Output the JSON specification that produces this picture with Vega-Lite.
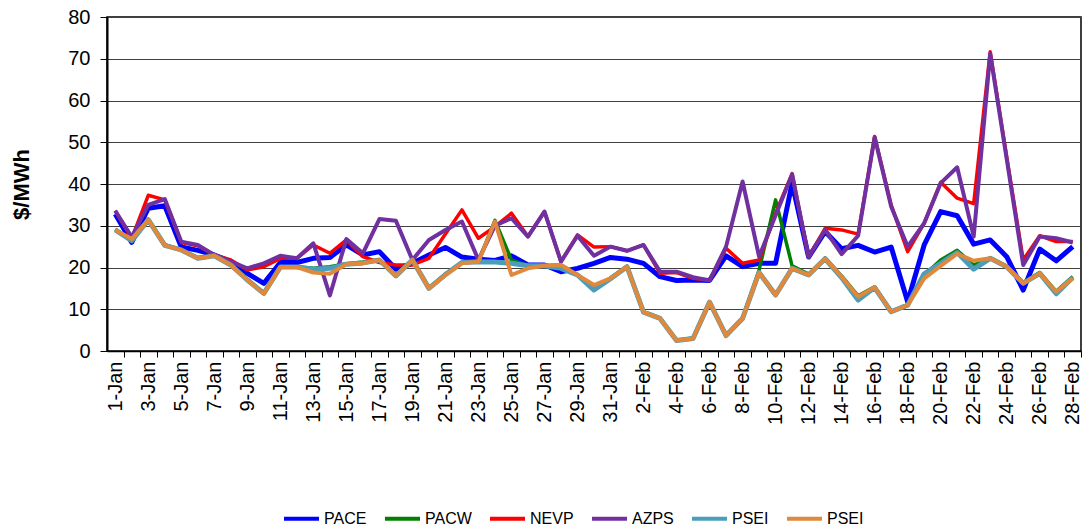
{
  "$schema": "https://vega.github.io/schema/vega-lite/v6.json",
  "width": 974,
  "height": 334,
  "autosize": {"type": "none"},
  "padding": {"left": 107, "top": 17, "right": 7, "bottom": 178},
  "background": "white",
  "config": {
    "font": "Liberation Sans",
    "view": {"stroke": "#000000", "strokeWidth": 1.5}
  },
  "data": {
    "values": [
      {"date": "1-Jan", "PACE": 32.8, "PACW": 29.2, "NEVP": 33.6, "AZPS": 33.6, "PSEI": 29, "PSEI2": 29},
      {"date": "2-Jan", "PACE": 26, "PACW": 26.6, "NEVP": 27, "AZPS": 27.3, "PSEI": 26.4, "PSEI2": 26.8},
      {"date": "3-Jan", "PACE": 34.2, "PACW": 31.6, "NEVP": 37.3, "AZPS": 35, "PSEI": 31.4, "PSEI2": 31.4},
      {"date": "4-Jan", "PACE": 34.8, "PACW": 25.5, "NEVP": 36.2, "AZPS": 36.4, "PSEI": 25.3, "PSEI2": 25.3},
      {"date": "5-Jan", "PACE": 24.9, "PACW": 24.2, "NEVP": 26, "AZPS": 26.2, "PSEI": 24.2, "PSEI2": 24.2},
      {"date": "6-Jan", "PACE": 24.1, "PACW": 22.4, "NEVP": 25.2, "AZPS": 25.4, "PSEI": 22.2, "PSEI2": 22.2},
      {"date": "7-Jan", "PACE": 23, "PACW": 22.8, "NEVP": 23, "AZPS": 23, "PSEI": 22.8, "PSEI2": 22.8},
      {"date": "8-Jan", "PACE": 21.4, "PACW": 20.8, "NEVP": 21.8, "AZPS": 21.4, "PSEI": 20.6, "PSEI2": 20.6},
      {"date": "9-Jan", "PACE": 18.6, "PACW": 17.2, "NEVP": 19.4, "AZPS": 19.8, "PSEI": 17, "PSEI2": 17},
      {"date": "10-Jan", "PACE": 16.2, "PACW": 13.9, "NEVP": 20.2, "AZPS": 21, "PSEI": 13.8, "PSEI2": 13.7},
      {"date": "11-Jan", "PACE": 21.2, "PACW": 20.2, "NEVP": 22.2, "AZPS": 22.8, "PSEI": 20.1, "PSEI2": 20.1},
      {"date": "12-Jan", "PACE": 21.2, "PACW": 20.2, "NEVP": 22.2, "AZPS": 22.2, "PSEI": 20.1, "PSEI2": 20.1},
      {"date": "13-Jan", "PACE": 22.2, "PACW": 19.8, "NEVP": 25.4, "AZPS": 25.8, "PSEI": 19.6, "PSEI2": 18.8},
      {"date": "14-Jan", "PACE": 22.4, "PACW": 20.2, "NEVP": 23.4, "AZPS": 13.3, "PSEI": 19.8, "PSEI2": 18.5},
      {"date": "15-Jan", "PACE": 25.4, "PACW": 20.9, "NEVP": 26.6, "AZPS": 26.8, "PSEI": 20.8, "PSEI2": 20.8},
      {"date": "16-Jan", "PACE": 23, "PACW": 21.3, "NEVP": 22.6, "AZPS": 23.4, "PSEI": 21.1, "PSEI2": 21},
      {"date": "17-Jan", "PACE": 23.8, "PACW": 21.8, "NEVP": 21.2, "AZPS": 31.6, "PSEI": 21.8, "PSEI2": 21.8},
      {"date": "18-Jan", "PACE": 19.6, "PACW": 18.1, "NEVP": 20.6, "AZPS": 31.2, "PSEI": 18, "PSEI2": 18},
      {"date": "19-Jan", "PACE": 21, "PACW": 21.8, "NEVP": 20.6, "AZPS": 21.8, "PSEI": 21.8, "PSEI2": 21.8},
      {"date": "20-Jan", "PACE": 23, "PACW": 15.1, "NEVP": 22.2, "AZPS": 26.6, "PSEI": 15, "PSEI2": 15},
      {"date": "21-Jan", "PACE": 24.8, "PACW": 18.4, "NEVP": 28, "AZPS": 29, "PSEI": 18.3, "PSEI2": 18.2},
      {"date": "22-Jan", "PACE": 22.5, "PACW": 21.1, "NEVP": 33.8, "AZPS": 31, "PSEI": 21.2, "PSEI2": 21},
      {"date": "23-Jan", "PACE": 22, "PACW": 21.5, "NEVP": 27, "AZPS": 21.8, "PSEI": 21.4, "PSEI2": 21.4},
      {"date": "24-Jan", "PACE": 21.7, "PACW": 31.3, "NEVP": 29.8, "AZPS": 30, "PSEI": 21.3, "PSEI2": 31},
      {"date": "25-Jan", "PACE": 22.8, "PACW": 21.8, "NEVP": 33, "AZPS": 31.8, "PSEI": 21, "PSEI2": 18.2},
      {"date": "26-Jan", "PACE": 20.6, "PACW": 20.4, "NEVP": 27.4, "AZPS": 27.4, "PSEI": 20.4, "PSEI2": 19.8},
      {"date": "27-Jan", "PACE": 20.6, "PACW": 20.5, "NEVP": 33.4, "AZPS": 33.4, "PSEI": 20.4, "PSEI2": 20.4},
      {"date": "28-Jan", "PACE": 19, "PACW": 20.6, "NEVP": 21.4, "AZPS": 21.4, "PSEI": 19.8, "PSEI2": 20.6},
      {"date": "29-Jan", "PACE": 19.8, "PACW": 18.3, "NEVP": 27.8, "AZPS": 27.6, "PSEI": 18.2, "PSEI2": 18.2},
      {"date": "30-Jan", "PACE": 21, "PACW": 15, "NEVP": 24.9, "AZPS": 22.8, "PSEI": 14.6, "PSEI2": 15.8},
      {"date": "31-Jan", "PACE": 22.4, "PACW": 17.5, "NEVP": 25, "AZPS": 25, "PSEI": 17.3, "PSEI2": 17.4},
      {"date": "1-Feb", "PACE": 22, "PACW": 20.3, "NEVP": 24, "AZPS": 24, "PSEI": 20.2, "PSEI2": 20.2},
      {"date": "2-Feb", "PACE": 21, "PACW": 9.4, "NEVP": 25.4, "AZPS": 25.4, "PSEI": 9.3, "PSEI2": 9.3},
      {"date": "3-Feb", "PACE": 17.8, "PACW": 7.9, "NEVP": 18.6, "AZPS": 19, "PSEI": 7.8, "PSEI2": 7.8},
      {"date": "4-Feb", "PACE": 16.9, "PACW": 2.6, "NEVP": 18.8, "AZPS": 19, "PSEI": 2.5, "PSEI2": 2.5},
      {"date": "5-Feb", "PACE": 17, "PACW": 3.1, "NEVP": 17.4, "AZPS": 17.7, "PSEI": 3, "PSEI2": 3},
      {"date": "6-Feb", "PACE": 16.9, "PACW": 11.8, "NEVP": 16.9, "AZPS": 16.9, "PSEI": 11.7, "PSEI2": 11.7},
      {"date": "7-Feb", "PACE": 22.8, "PACW": 3.8, "NEVP": 24.6, "AZPS": 25, "PSEI": 3.7, "PSEI2": 3.7},
      {"date": "8-Feb", "PACE": 20.2, "PACW": 7.9, "NEVP": 21, "AZPS": 40.6, "PSEI": 7.8, "PSEI2": 7.8},
      {"date": "9-Feb", "PACE": 21, "PACW": 19.4, "NEVP": 21.8, "AZPS": 22.6, "PSEI": 18.8, "PSEI2": 18.8},
      {"date": "10-Feb", "PACE": 21, "PACW": 36.2, "NEVP": 33, "AZPS": 32.5, "PSEI": 13.4, "PSEI2": 13.4},
      {"date": "11-Feb", "PACE": 40.2, "PACW": 20.4, "NEVP": 42.5, "AZPS": 42.3, "PSEI": 19.8, "PSEI2": 19.8},
      {"date": "12-Feb", "PACE": 22.5, "PACW": 18.4, "NEVP": 22.5, "AZPS": 22.5, "PSEI": 18.2, "PSEI2": 18.2},
      {"date": "13-Feb", "PACE": 28.6, "PACW": 22.3, "NEVP": 29.4, "AZPS": 29, "PSEI": 22.1, "PSEI2": 22.1},
      {"date": "14-Feb", "PACE": 24.5, "PACW": 18, "NEVP": 29, "AZPS": 23.2, "PSEI": 17.6, "PSEI2": 17.8},
      {"date": "15-Feb", "PACE": 25.3, "PACW": 13.2, "NEVP": 28, "AZPS": 27.6, "PSEI": 12.2, "PSEI2": 13},
      {"date": "16-Feb", "PACE": 23.7, "PACW": 15.4, "NEVP": 51.4, "AZPS": 51.2, "PSEI": 15.2, "PSEI2": 15.3},
      {"date": "17-Feb", "PACE": 24.9, "PACW": 9.5, "NEVP": 35, "AZPS": 34.6, "PSEI": 9.4, "PSEI2": 9.4},
      {"date": "18-Feb", "PACE": 11.8, "PACW": 11.1, "NEVP": 23.8, "AZPS": 25, "PSEI": 11, "PSEI2": 11},
      {"date": "19-Feb", "PACE": 25.4, "PACW": 18.2, "NEVP": 30.6, "AZPS": 30.6, "PSEI": 18.5, "PSEI2": 17.4},
      {"date": "20-Feb", "PACE": 33.4, "PACW": 21.8, "NEVP": 40.4, "AZPS": 40.2, "PSEI": 21, "PSEI2": 20.4},
      {"date": "21-Feb", "PACE": 32.4, "PACW": 24.1, "NEVP": 36.6, "AZPS": 44, "PSEI": 23.6, "PSEI2": 23.3},
      {"date": "22-Feb", "PACE": 25.6, "PACW": 20.6, "NEVP": 35.3, "AZPS": 27.4, "PSEI": 19.6, "PSEI2": 21.6},
      {"date": "23-Feb", "PACE": 26.6, "PACW": 22.3, "NEVP": 71.7, "AZPS": 71.2, "PSEI": 22.2, "PSEI2": 22.2},
      {"date": "24-Feb", "PACE": 22.6, "PACW": 20.3, "NEVP": 46.5, "AZPS": 46, "PSEI": 20.2, "PSEI2": 20.2},
      {"date": "25-Feb", "PACE": 14.6, "PACW": 16.4, "NEVP": 21.8, "AZPS": 20.6, "PSEI": 16.2, "PSEI2": 16.2},
      {"date": "26-Feb", "PACE": 24.4, "PACW": 18.8, "NEVP": 27.6, "AZPS": 27.4, "PSEI": 18.6, "PSEI2": 18.6},
      {"date": "27-Feb", "PACE": 21.6, "PACW": 14.3, "NEVP": 26.2, "AZPS": 27, "PSEI": 13.7, "PSEI2": 14.2},
      {"date": "28-Feb", "PACE": 25, "PACW": 17.8, "NEVP": 26.2, "AZPS": 26, "PSEI": 17.6, "PSEI2": 17.4}
    ]
  },
  "transform": [
    {"fold": ["PACE", "PACW", "NEVP", "AZPS", "PSEI", "PSEI2"], "as": ["series", "price"]}
  ],
  "encoding": {
    "x": {
      "field": "date",
      "type": "ordinal",
      "sort": null,
      "scale": {"type": "point", "padding": 0.5},
      "axis": {
        "title": null,
        "grid": false,
        "tickSize": 6,
        "tickColor": "#000000",
        "tickWidth": 1,
        "tickOffset": 8.25,
        "labelOffset": -8.25,
        "domainColor": "#000000",
        "domainWidth": 1.5,
        "labelAngle": -90,
        "labelFontSize": 20,
        "labelColor": "#000000",
        "labelPadding": 4,
        "labelOverlap": false,
        "labelExpr": "(indexof(datum.value, 'Jan') > 0 ? toNumber(split(datum.value, '-')[0]) % 2 == 1 : toNumber(split(datum.value, '-')[0]) % 2 == 0) ? datum.value : ''"
      }
    },
    "y": {
      "field": "price",
      "type": "quantitative",
      "scale": {"domain": [0, 80], "nice": false, "zero": true},
      "axis": {
        "title": "$/MWh",
        "titleFontSize": 22,
        "titleFontWeight": "bold",
        "titleColor": "#000000",
        "titlePadding": 34,
        "values": [0, 10, 20, 30, 40, 50, 60, 70, 80],
        "grid": true,
        "gridColor": "#404040",
        "gridWidth": 1,
        "tickSize": 7,
        "tickColor": "#000000",
        "domainColor": "#000000",
        "domainWidth": 2,
        "labelFontSize": 20,
        "labelColor": "#000000",
        "labelPadding": 10
      }
    },
    "color": {
      "field": "series",
      "type": "nominal",
      "scale": {
        "domain": ["PACE", "PACW", "NEVP", "AZPS", "PSEI", "PSEI2"],
        "range": ["#0000FF", "#008000", "#FF0000", "#7030A0", "#4A9EBA", "#E0883C"]
      },
      "legend": {
        "orient": "none",
        "legendX": 175,
        "legendY": 482,
        "direction": "horizontal",
        "title": null,
        "symbolType": "stroke",
        "symbolSize": 1225,
        "symbolStrokeWidth": 4,
        "labelFontSize": 16,
        "labelColor": "#000000",
        "labelOffset": 3,
        "columnPadding": 10,
        "labelExpr": "datum.label == 'PSEI2' ? 'PSEI' : datum.label"
      }
    }
  },
  "layer": [
    {"transform": [{"filter": "datum.series == 'PACE'"}], "mark": {"type": "line", "strokeWidth": 5, "strokeJoin": "round"}},
    {"transform": [{"filter": "datum.series == 'PACW'"}], "mark": {"type": "line", "strokeWidth": 3.5, "strokeJoin": "round"}},
    {"transform": [{"filter": "datum.series == 'NEVP'"}], "mark": {"type": "line", "strokeWidth": 3.5, "strokeJoin": "round"}},
    {"transform": [{"filter": "datum.series == 'AZPS'"}], "mark": {"type": "line", "strokeWidth": 4, "strokeJoin": "round"}},
    {"transform": [{"filter": "datum.series == 'PSEI'"}], "mark": {"type": "line", "strokeWidth": 5, "strokeJoin": "round"}},
    {"transform": [{"filter": "datum.series == 'PSEI2'"}], "mark": {"type": "line", "strokeWidth": 4, "strokeJoin": "round"}}
  ]
}
